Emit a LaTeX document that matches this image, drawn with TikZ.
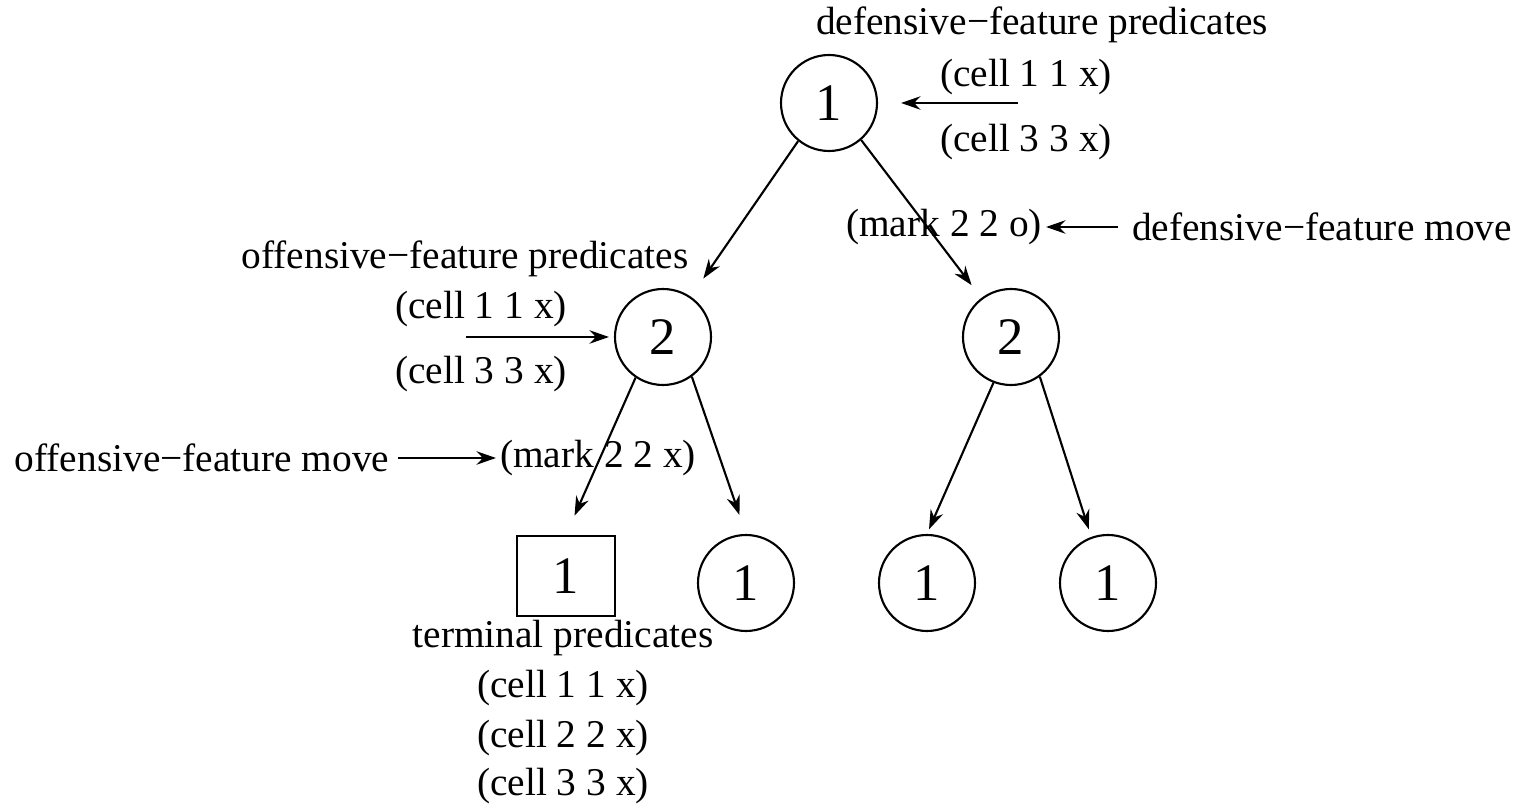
\documentclass[tikz,border=0pt]{standalone}
\usepackage{fontspec}
\setmainfont{Liberation Serif}
\usetikzlibrary{arrows.meta}
\begin{document}
\begin{tikzpicture}[x=1cm,y=1cm,
  every node/.style={font=\fontsize{11.2}{13}\selectfont, inner sep=1pt},
  statenode/.style={draw, circle, line width=0.6pt, minimum size=0.96cm, inner sep=0pt, font=\fontsize{15}{17}\selectfont},
  termnode/.style={draw, rectangle, line width=0.6pt, minimum width=0.98cm, minimum height=0.80cm, inner sep=0pt, font=\fontsize{15}{17}\selectfont},
  conn/.style={line width=0.6pt, -{Stealth[length=5.5pt,width=3.8pt]}},
  lbl/.style={inner sep=1pt}
]
\useasboundingbox (0,0) rectangle (15.35,-8.06);
% tree nodes
\node[statenode] (n1)  at (8.29,-1.03) {1};
\node[statenode] (n2l) at (6.63,-3.37) {2};
\node[statenode] (n2r) at (10.11,-3.37) {2};
\node[termnode]  (sq)  at (5.66,-5.76) {1};
\node[statenode] (l2)  at (7.46,-5.83) {1};
\node[statenode] (l3)  at (9.27,-5.83) {1};
\node[statenode] (l4)  at (11.08,-5.83) {1};
% labels
\node[lbl] (dfp) at (10.42,-0.25) {defensive−feature predicates};
\node[lbl] (c11a) at (10.26,-0.77) {(cell 1 1 x)};
\node[lbl] (c33a) at (10.26,-1.42) {(cell 3 3 x)};
\node[lbl] (m2o) at (9.44,-2.27) {(mark 2 2 o)};
\node[lbl] (dfm) at (13.22,-2.27) {defensive−feature move};
\node[lbl] (ofp) at (4.65,-2.59) {offensive−feature predicates};
\node[lbl] (c11b) at (4.81,-3.09) {(cell 1 1 x)};
\node[lbl] (c33b) at (4.81,-3.74) {(cell 3 3 x)};
\node[lbl] (ofm) at (2.02,-4.58) {offensive−feature move};
\node[lbl] (m2x) at (5.98,-4.58) {(mark 2 2 x)};
\node[lbl] (tp) at (5.63,-6.38) {terminal predicates};
\node[lbl] (t1) at (5.63,-6.88) {(cell 1 1 x)};
\node[lbl] (t2) at (5.63,-7.38) {(cell 2 2 x)};
\node[lbl] (t3) at (5.63,-7.86) {(cell 3 3 x)};
% free ends
\coordinate (a1) at (10.18,-1.03);
\coordinate (a2) at (4.66,-3.37);
% tree edges
\draw[conn, shorten >=0.71cm] (n1.231) -- (n2l.center);
\draw[conn, shorten >=0.65cm] (n1.311) -- (n2r.center);
\draw[conn, shorten >=0.21cm] (n2l.236) -- (sq.north);
\draw[conn, shorten >=0.20cm] (n2l.306) -- (l2.north);
\draw[conn, shorten >=0.05cm] (n2r.249) -- (l3.north);
\draw[conn, shorten >=0.08cm] (n2r.306) -- (l4.110);
% annotation arrows
\draw[conn, shorten >=0.23cm] (a1) -- (n1);
\draw[conn, shorten >=0.05cm] (a2) -- (n2l);
\draw[conn, shorten <=0.1cm] (dfm.west) -- (m2o.east);
\draw[conn, shorten <=0.05cm] (ofm.east) -- (m2x.west);
\end{tikzpicture}
\end{document}
